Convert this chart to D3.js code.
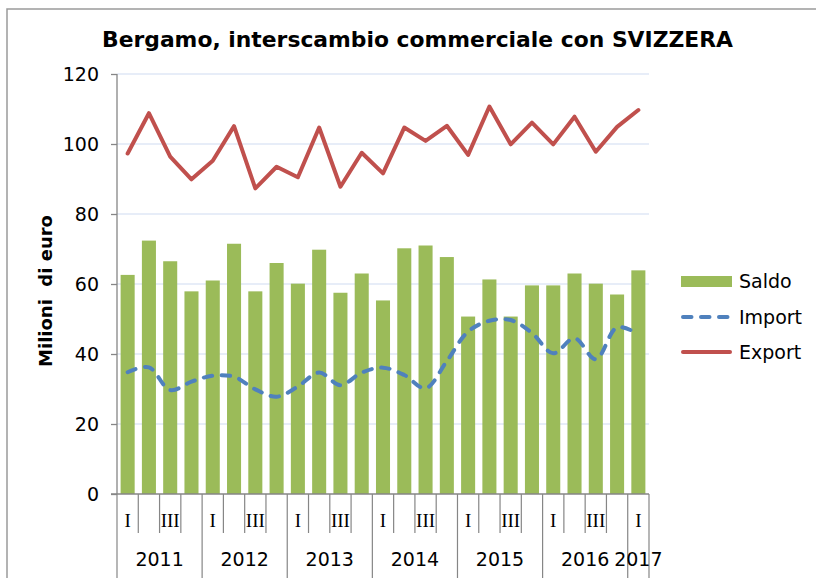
<!DOCTYPE html>
<html>
<head>
<meta charset="utf-8">
<script src="https://cdn.jsdelivr.net/npm/d3@7"></script>
<style>
  body { margin: 0; background: #fff; }
  svg { display: block; }
</style>
</head>
<body>
<div id="chart"></div>
<script>
const chartTitle = "Bergamo, interscambio commerciale con SVIZZERA";
const yTitle = "Milioni  di euro";
const years = ["2011", "2012", "2013", "2014", "2015", "2016", "2017"];
const quarterNames = ["I", "II", "III", "IV"];
const yTicks = [0, 20, 40, 60, 80, 100, 120];

// 2011-I .. 2017-I
const saldo = [62.6, 72.4, 66.5, 57.9, 61.0, 71.5, 57.9, 66.0, 60.1, 69.8, 57.5, 63.0, 55.3,
               70.2, 71.0, 67.7, 50.7, 61.3, 50.7, 59.6, 59.6, 63.0, 60.1, 57.0, 63.9];
const importVals = [34.8, 36.2, 29.7, 32.1, 33.8, 33.5, 29.9, 27.8, 30.7, 34.7, 31.1, 34.7, 36.1,
                    34.0, 30.2, 38.0, 46.4, 49.5, 49.7, 46.0, 40.2, 44.5, 38.5, 47.6, 45.7];
const exportVals = [97.3, 108.8, 96.4, 89.9, 95.2, 105.1, 87.3, 93.5, 90.5, 104.7, 87.8, 97.5, 91.6,
                    104.7, 100.9, 105.2, 96.9, 110.7, 99.9, 106.1, 99.9, 107.8, 97.8, 104.9, 109.7];

const green = "#9bbb59", blue = "#4f81bd", red = "#c0504d";
const axisColor = "#868686", gridColor = "#cfdcf2";
const font = "'DejaVu Sans', Verdana, sans-serif";

// build category list: every quarter of each year, last year only Q1
let categories = [];
years.forEach(function(y, yi) {
    let n = (yi === years.length - 1) ? 1 : 4;
    for (let q = 0; q < n; q++) {
        categories.push({ key: y + "-" + q, year: y, quarter: quarterNames[q], q: q });
    }
});

const width = 816, height = 578;
const margin = { top: 74, left: 117, right: 816 - 649, bottom: 578 - 494 };
const plotW = width - margin.left - margin.right;
const plotH = height - margin.top - margin.bottom;

const svg = d3.select("#chart").append("svg")
    .attr("width", width)
    .attr("height", height);

svg.append("rect").attr("width", width).attr("height", height).attr("fill", "#fff");

// outer frame (left + top only visible)
svg.append("path")
    .attr("d", "M7," + height + "V9H" + width)
    .attr("fill", "none")
    .attr("stroke", "#9a9a9a")
    .attr("stroke-width", 1.5);

// title
svg.append("text")
    .attr("x", 417.5)
    .attr("y", 47)
    .attr("text-anchor", "middle")
    .attr("font-family", font)
    .attr("font-weight", "bold")
    .attr("font-size", 21)
    .attr("textLength", 631)
    .attr("lengthAdjust", "spacingAndGlyphs")
    .text(chartTitle);

const g = svg.append("g")
    .attr("transform", "translate(" + margin.left + "," + margin.top + ")");

const x = d3.scaleBand()
    .domain(categories.map(d => d.key))
    .range([0, plotW])
    .paddingInner(0.34)
    .paddingOuter(0.17);

const y = d3.scaleLinear()
    .domain([0, 120])
    .range([plotH, 0]);

// gridlines
g.append("g")
    .selectAll("line")
    .data(yTicks.filter(t => t > 0))
    .join("line")
    .attr("x1", 0)
    .attr("x2", plotW)
    .attr("y1", d => y(d))
    .attr("y2", d => y(d))
    .attr("stroke", gridColor)
    .attr("stroke-width", 1.2);

// bars
g.append("g")
    .selectAll("rect")
    .data(saldo)
    .join("rect")
    .attr("x", (d, i) => x(categories[i].key))
    .attr("width", x.bandwidth())
    .attr("y", d => y(d))
    .attr("height", d => y(0) - y(d))
    .attr("fill", green);

const cx = i => x(categories[i].key) + x.bandwidth() / 2;

// import (smoothed, dashed)
const importLine = d3.line()
    .x((d, i) => cx(i))
    .y(d => y(d))
    .curve(d3.curveCatmullRom.alpha(0.5));

g.append("path")
    .attr("d", importLine(importVals))
    .attr("fill", "none")
    .attr("stroke", blue)
    .attr("stroke-width", 4)
    .attr("stroke-linecap", "round")
    .attr("stroke-dasharray", "8.5,9.5");

// export
const exportLine = d3.line()
    .x((d, i) => cx(i))
    .y(d => y(d));

g.append("path")
    .attr("d", exportLine(exportVals))
    .attr("fill", "none")
    .attr("stroke", red)
    .attr("stroke-width", 4)
    .attr("stroke-linejoin", "round")
    .attr("stroke-linecap", "round");

// y axis
const yAxis = d3.axisLeft(y)
    .tickValues(yTicks)
    .tickSize(6)
    .tickPadding(12);

const yAxisG = g.append("g").call(yAxis);
yAxisG.select(".domain").attr("stroke", axisColor).attr("stroke-width", 1.3).attr("d", "M0," + plotH + "V0");
yAxisG.selectAll(".tick line").attr("stroke", axisColor).attr("stroke-width", 1.3);
yAxisG.selectAll(".tick text")
    .attr("font-family", font)
    .attr("font-size", 19)
    .attr("fill", "#000");

// x axis: baseline plus category separators
const step = x.step();
const boundary = i => (i < categories.length) ? x(categories[i].key) - (step - x.bandwidth()) / 2 : plotW;

const xAxisG = g.append("g").attr("transform", "translate(0," + plotH + ")");
xAxisG.append("line")
    .attr("x1", -6).attr("x2", plotW)
    .attr("stroke", axisColor).attr("stroke-width", 1.3);

let bounds = d3.range(categories.length + 1);
xAxisG.selectAll("line.sep")
    .data(bounds)
    .join("line")
    .attr("class", "sep")
    .attr("x1", i => boundary(i))
    .attr("x2", i => boundary(i))
    .attr("y1", 0)
    .attr("y2", i => (i === categories.length || (i < categories.length && categories[i].q === 0)) ? height - plotH - margin.top : 39)
    .attr("stroke", axisColor)
    .attr("stroke-width", 1.2);

// quarter labels (only I and III shown)
xAxisG.selectAll("text.q")
    .data(categories.filter(d => d.q === 0 || d.q === 2))
    .join("text")
    .attr("class", "q")
    .attr("x", d => x(d.key) + x.bandwidth() / 2)
    .attr("y", 33)
    .attr("text-anchor", "middle")
    .attr("font-family", "'Liberation Serif', 'Times New Roman', serif")
    .attr("font-size", 19)
    .text(d => d.quarter);

// year labels
xAxisG.selectAll("text.yr")
    .data(years)
    .join("text")
    .attr("class", "yr")
    .attr("x", function(yr) {
        let idx = categories.map((c, i) => c.year === yr ? i : -1).filter(i => i >= 0);
        return (boundary(idx[0]) + boundary(idx[idx.length - 1] + 1)) / 2;
    })
    .attr("y", 72)
    .attr("text-anchor", "middle")
    .attr("font-family", font)
    .attr("font-size", 19)
    .text(d => d);

// y axis title
svg.append("text")
    .attr("transform", "translate(52,291) rotate(-90)")
    .attr("text-anchor", "middle")
    .attr("font-family", font)
    .attr("font-weight", "bold")
    .attr("font-size", 18)
    .style("white-space", "pre")
    .text(yTitle);

// legend
const legend = svg.append("g");
legend.append("rect")
    .attr("x", 681).attr("y", 276).attr("width", 51).attr("height", 11)
    .attr("fill", green);
legend.append("line")
    .attr("x1", 683).attr("x2", 730).attr("y1", 317).attr("y2", 317)
    .attr("stroke", blue).attr("stroke-width", 4)
    .attr("stroke-linecap", "round").attr("stroke-dasharray", "8.5,9.5");
legend.append("line")
    .attr("x1", 683).attr("x2", 730).attr("y1", 352).attr("y2", 352)
    .attr("stroke", red).attr("stroke-width", 4)
    .attr("stroke-linecap", "round");

const legendItems = ["Saldo", "Import", "Export"];
const legendY = [281.5, 317, 352];
legend.selectAll("text")
    .data(legendItems)
    .join("text")
    .attr("x", 739)
    .attr("y", (d, i) => legendY[i])
    .attr("dy", "0.36em")
    .attr("font-family", font)
    .attr("font-size", 19)
    .text(d => d);
</script>
</body>
</html>
